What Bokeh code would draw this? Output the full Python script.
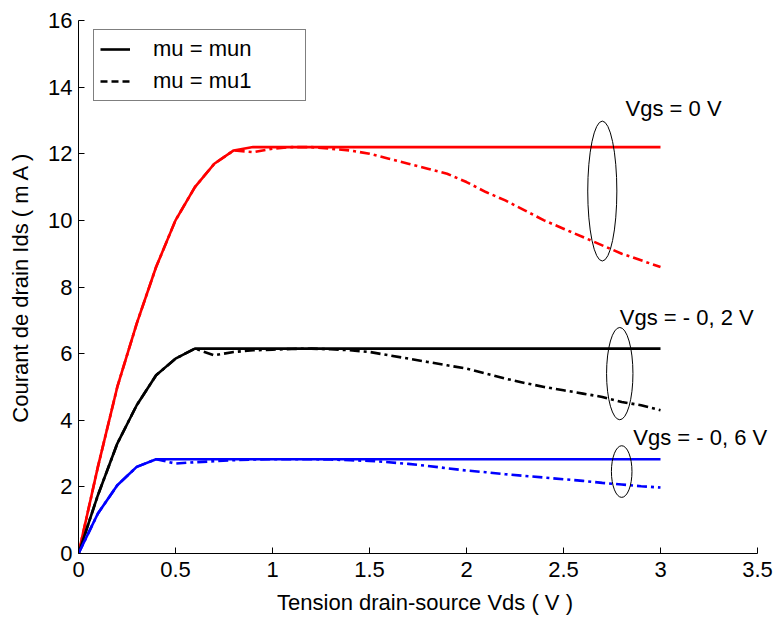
from bokeh.plotting import figure
from bokeh.models import Legend, LegendItem, FixedTicker, CustomJSTickFormatter, Range1d, Label
from bokeh.embed import file_html
from bokeh.resources import INLINE

vds = [0.0, 0.1, 0.2, 0.3, 0.4, 0.5, 0.6, 0.7, 0.8, 0.9, 1.0, 1.1, 1.2, 1.3, 1.4, 1.5,
       1.6, 1.7, 1.8, 1.9, 2.0, 2.1, 2.2, 2.3, 2.4, 2.5, 2.6, 2.7, 2.8, 2.9, 3.0]

red_mun = [0, 2.6, 5.0, 6.9, 8.6, 10.0, 11.0, 11.7, 12.1, 12.2, 12.2, 12.2, 12.2, 12.2, 12.2, 12.2,
           12.2, 12.2, 12.2, 12.2, 12.2, 12.2, 12.2, 12.2, 12.2, 12.2, 12.2, 12.2, 12.2, 12.2, 12.2]
red_mu1 = [0, 2.6, 5.0, 6.9, 8.6, 10.0, 11.0, 11.7, 12.1, 12.05, 12.15, 12.2, 12.2, 12.15, 12.1, 12.0,
           11.85, 11.7, 11.55, 11.4, 11.15, 10.85, 10.6, 10.3, 10.0, 9.75, 9.5, 9.25, 9.0, 8.8, 8.6]

black_mun = [0, 1.75, 3.3, 4.45, 5.35, 5.85, 6.15, 6.15, 6.15, 6.15, 6.15, 6.15, 6.15, 6.15, 6.15, 6.15,
             6.15, 6.15, 6.15, 6.15, 6.15, 6.15, 6.15, 6.15, 6.15, 6.15, 6.15, 6.15, 6.15, 6.15, 6.15]
black_mu1 = [0, 1.75, 3.3, 4.45, 5.35, 5.85, 6.15, 5.95, 6.05, 6.1, 6.12, 6.14, 6.15, 6.13, 6.1, 6.05,
             5.95, 5.85, 5.75, 5.65, 5.55, 5.4, 5.25, 5.12, 5.0, 4.9, 4.8, 4.7, 4.55, 4.45, 4.3]

blue_mun = [0, 1.2, 2.05, 2.6, 2.83, 2.83, 2.83, 2.83, 2.83, 2.83, 2.83, 2.83, 2.83, 2.83, 2.83, 2.83,
            2.83, 2.83, 2.83, 2.83, 2.83, 2.83, 2.83, 2.83, 2.83, 2.83, 2.83, 2.83, 2.83, 2.83, 2.83]
blue_mu1 = [0, 1.2, 2.05, 2.6, 2.83, 2.7, 2.74, 2.77, 2.8, 2.82, 2.83, 2.83, 2.83, 2.82, 2.8, 2.78,
            2.74, 2.69, 2.63, 2.56, 2.49, 2.44, 2.38, 2.33, 2.28, 2.23, 2.18, 2.12, 2.07, 2.02, 1.98]

x_ticks = [0, 0.5, 1, 1.5, 2, 2.5, 3, 3.5]
y_ticks = [0, 2, 4, 6, 8, 10, 12, 14, 16]

legend_labels = ["mu = mun", "mu = mu1"]

ann_text = ["Vgs = 0 V", "Vgs = - 0, 2 V", "Vgs = - 0, 6 V"]
ann_x = [2.82, 2.79, 2.86]
ann_y = [13.36, 7.08, 3.48]

ell_x = [2.70, 2.79, 2.80]
ell_y = [10.88, 5.40, 2.46]
ell_w = [0.15, 0.136, 0.106]
ell_h = [4.2, 2.77, 1.55]

FONT = "Liberation Sans"
FS = "22px"
DASH = "10 4 3 4"

# frame extends a little past 3.5 so the right-hand annotation is not clipped;
# the axis line itself is bounded to 0..3.5 as in the original
p = figure(width=773, height=619, output_backend="svg", toolbar_location=None,
           x_range=Range1d(0, 3.5722), y_range=Range1d(0, 16),
           min_border_left=78, min_border_top=20, min_border_right=2, min_border_bottom=60)
p.frame_width = 693
p.frame_height = 533
p.outline_line_color = None
p.grid.grid_line_color = None
p.background_fill_color = "white"
p.border_fill_color = "white"

fmt = CustomJSTickFormatter(code="return tick.toString();")
for ax, ticks in ((p.xaxis, x_ticks), (p.yaxis, y_ticks)):
    ax.ticker = FixedTicker(ticks=ticks)
    ax.formatter = fmt
    ax.major_tick_in = 6
    ax.major_tick_out = 0
    ax.minor_tick_line_color = None
    ax.axis_line_color = "black"
    ax.major_tick_line_color = "black"
    ax.major_label_text_font = FONT
    ax.major_label_text_font_size = FS
    ax.major_label_text_color = "black"
    ax.axis_label_text_font = FONT
    ax.axis_label_text_font_size = FS
    ax.axis_label_text_font_style = "normal"
    ax.axis_label_text_color = "black"

p.xaxis.bounds = (0, 3.5)
p.xaxis.axis_label = "Tension drain-source Vds ( V )"
p.yaxis.axis_label = "Courant de drain Ids ( m A )"
p.xaxis.major_label_standoff = 8
p.xaxis.axis_label_standoff = 10
p.yaxis.major_label_standoff = 6
p.yaxis.axis_label_standoff = 12

LW = 2.6
p.line(vds, red_mu1, line_color="#ff0000", line_width=LW, line_dash=DASH)
p.line(vds, black_mu1, line_color="black", line_width=LW, line_dash=DASH)
p.line(vds, blue_mu1, line_color="#0000ff", line_width=LW, line_dash=DASH)
p.line(vds, red_mun, line_color="#ff0000", line_width=LW)
p.line(vds, black_mun, line_color="black", line_width=LW)
p.line(vds, blue_mun, line_color="#0000ff", line_width=LW)

p.ellipse(x=ell_x, y=ell_y, width=ell_w, height=ell_h, fill_color=None,
          line_color="black", line_width=1)

for t, tx, ty in zip(ann_text, ann_x, ann_y):
    p.add_layout(Label(x=tx, y=ty, text=t, text_font=FONT, text_font_size=FS,
                       text_align="left", text_baseline="middle", text_color="black"))

# legend proxies: single-point lines (draw nothing on the plot)
leg_solid = p.line(vds[:1], black_mun[:1], line_color="black", line_width=LW)
leg_dash = p.line(vds[:1], black_mu1[:1], line_color="black", line_width=LW, line_dash="7 4")

legend = Legend(items=[LegendItem(label=legend_labels[0], renderers=[leg_solid]),
                       LegendItem(label=legend_labels[1], renderers=[leg_dash])],
                location=(15, 452), orientation="vertical")
legend.border_line_color = "black"
legend.border_line_width = 1
legend.background_fill_color = "white"
legend.background_fill_alpha = 1
legend.label_text_font = FONT
legend.label_text_font_size = FS
legend.label_text_color = "black"
legend.padding = 6
legend.spacing = 6
legend.margin = 0
legend.glyph_width = 30
legend.glyph_height = 26
legend.label_height = 26
legend.label_width = 146
legend.label_standoff = 23
p.add_layout(legend, "center")

open("out.html", "w").write(file_html(p, INLINE))
